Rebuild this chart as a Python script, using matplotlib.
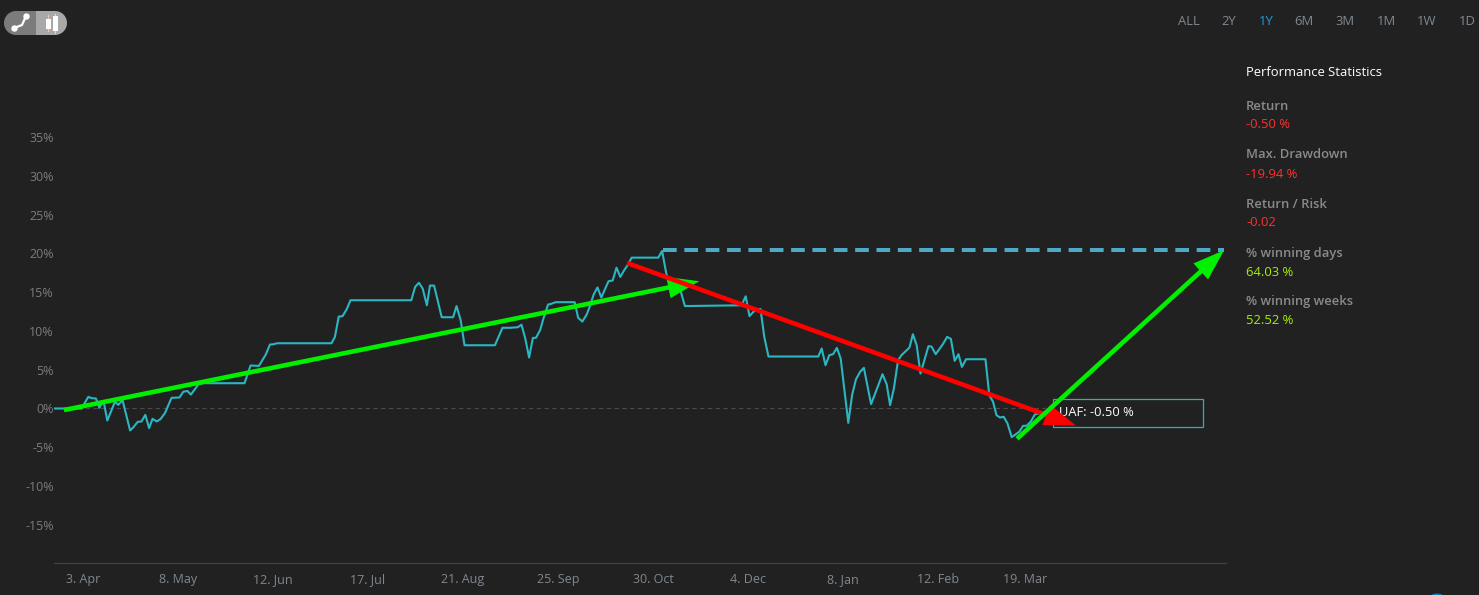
import matplotlib
matplotlib.use('Agg')
import matplotlib.pyplot as plt
from matplotlib.patches import FancyArrowPatch, Rectangle, Circle

# session number (0 = 3. Apr, one per trading day) and return in %
sessions = [-7.5, -0.4, 1.4, 2.3, 3.4, 4.3, 5.4, 6.4, 8.4, 9.3, 10.4, 12.4, 13.2, 14.4, 15.4, 16.4, 17.4, 18.3, 19.4,
            20.4, 21.6, 23.3, 25.4, 26.4, 27.5, 28.4, 30.4, 31.7, 42.5, 44.1, 46.3, 48.1, 49.2, 50.1, 51.1, 65.4,
            66.3, 67.3, 68.3, 69.4, 70.4, 86.4, 87.4, 88.4, 89.4, 90.5, 91.3, 92.4, 94.4, 97.4, 98.3, 99.4, 100.4,
            108.4, 110.4, 112.4, 114.4, 115.4, 116.4, 117.4, 118.4, 119.2, 120.3, 121.3, 122.4, 123.3, 124.4, 129.4,
            130.3, 131.4, 132.6, 133.4, 134.4, 135.4, 136.4, 138.3, 139.4, 140.4, 141.4, 142.4, 143.3, 144.4, 151.4,
            152.4, 153.5, 154.5, 155.5, 156.5, 158.4, 173.3, 174.4, 175.4, 176.4, 177.5, 178.3, 179.3, 180.4, 193.5,
            194.4, 195.4, 196.4, 197.4, 198.4, 199.4, 201.4, 202.4, 203.4, 204.5, 205.5, 207.4, 210.4, 211.5, 212.4,
            213.4, 214.5, 215.4, 217.5, 218.4, 219.4, 220.4, 222.5, 223.3, 224.4, 226.4, 227.4, 228.4, 229.4, 230.4,
            231.3, 232.4, 237.5, 238.5, 239.5, 240.4, 241.3, 242.3, 243.3, 244.4, 245.4, 246.4, 247.4, 248.3, 249.4,
            250.5, 251.4, 253.1]
returns = [0, 0, 1.5, 1.33, 1.29, 0.09, 0.99, -1.55, 0.86, 0.47, 1.07, -2.83, -2.45, -1.72, -1.67, -0.82, -2.53, -1.33,
           -1.67, -1.37, -0.56, 1.37, 1.42, 2.17, 2.25, 1.79, 3.13, 3.26, 3.26, 5.54, 5.49, 6.95, 8.24, 8.28, 8.41, 8.41,
           9.23, 11.85, 11.89, 12.79, 13.95, 13.95, 15.67, 16.2, 15.45, 13.3, 15.84, 15.84, 11.76, 11.76, 13.2, 11.37,
           8.15, 8.15, 10.4, 10.4, 10.47, 10.8, 9.0, 6.57, 9.1, 9.1, 10.1, 11.8, 13.4, 13.5, 13.7, 13.7, 11.7, 11.2,
           12.15, 13.2, 14.7, 15.6, 14.3, 16.4, 16.5, 18.15, 16.95, 17.8, 18.45, 19.44, 19.44, 20.3, 17.4, 15.9, 16.65,
           16.5, 13.2, 13.3, 14.46, 11.9, 12.45, 12.75, 12.83, 9.2, 6.7, 6.7, 7.73, 5.58, 6.87, 7.0, 7.81, 6.44, -1.85,
           1.72, 3.73, 4.72, 5.24, 0.56, 4.42, 3.13, 0.43, 2.58, 6.22, 6.87, 7.85, 9.57, 8.15, 4.5, 8.03, 7.98, 7.0,
           8.37, 9.23, 8.97, 6.14, 7.0, 5.36, 6.35, 6.35, 1.72, 0.86, -0.86, -1.16, -1.07, -1.93, -3.69, -3.35, -3.0,
           -2.23, -2.23, -1.72, -0.77, -0.64, -0.5]

x_ticks = [0, 25, 50, 75, 100, 125, 150, 175, 200, 225, 248]
x_labels = ['3. Apr', '8. May', '12. Jun', '17. Jul', '21. Aug', '25. Sep', '30. Oct', '4. Dec', '8. Jan', '12. Feb', '19. Mar']
y_ticks = [-15, -10, -5, 0, 5, 10, 15, 20, 25, 30, 35]

# hand drawn trend arrows: (session, %) start and tip
high_level = 20.4
high_start = 152.6
high_end = 300.2
green_up = ((-5, -0.2), (162.2, 16.4))
red_down = ((143.2, 18.75), (261.3, -2.2))
green_back = ((245.8, -3.9), (300.3, 20.4))

ranges = ['ALL', '2Y', '1Y', '6M', '3M', '1M', '1W', '1D']
range_x = [1189, 1229, 1266, 1304, 1345, 1386, 1427, 1467]
stat_names = ['Return', 'Max. Drawdown', 'Return / Risk', '% winning days', '% winning weeks']
stat_values = ['-0.50 %', '-19.94 %', '-0.02', '64.03 %', '52.52 %']
stat_colors = ['#ff3030', '#ff3030', '#ff3030', '#a4f000', '#a4f000']

BG = '#212121'
W, H = 1479, 595
plt.rcParams['font.family'] = ['Open Sans', 'DejaVu Sans']

fig = plt.figure(figsize=(W / 100, H / 100), dpi=100, facecolor=BG)
# plot area runs from x=54 to x=1226, y=60 to y=563 in pixels
ax = fig.add_axes([54 / W, 1 - 563 / H, (1226 - 54) / W, (563 - 60) / H], facecolor=BG)
ax.set_xlim(-7.63, 300.8)
ax.set_ylim(-19.91, 44.91)
for s in ['top', 'left', 'right']:
    ax.spines[s].set_visible(False)
ax.spines['bottom'].set_color('#444444')
ax.spines['bottom'].set_linewidth(0.8)
ax.set_xticks(x_ticks)
ax.set_xticklabels(x_labels)
ax.set_yticks(y_ticks)
ax.set_yticklabels([str(v) + '%' for v in y_ticks])
ax.tick_params(axis='x', length=0, pad=7, labelsize=9, labelcolor='#808890')
ax.tick_params(axis='y', length=0, pad=0, labelsize=9, labelcolor='#7c7c7c')

# zero line and series
ax.plot([sessions[0], sessions[-1]], [0, 0], color='#4a4a4a', lw=0.8, dashes=(4, 3), zorder=1)
ax.plot(sessions, returns, color='#2bb6c2', lw=1.5, solid_joinstyle='round', zorder=2)

# tooltip box
ax_ui = fig.add_axes([0, 0, 1, 1], facecolor='none')
ax_ui.set_xlim(0, W)
ax_ui.set_ylim(H, 0)
ax_ui.axis('off')
ax_ui.add_patch(Rectangle((1053, 399), 150, 28, fill=False, ec='#36aab5', lw=0.9))
ax_ui.text(1059, 413, 'UAF: ' + stat_values[0], color='white', fontsize=9.3, va='center', ha='left')


def arrow(start, tip, color, width):
    p = FancyArrowPatch(start, tip, arrowstyle='-|>,head_length=16,head_width=5.5', mutation_scale=1, color=color,
                        lw=width, shrinkA=0, shrinkB=0, transform=ax.transData, clip_on=False, zorder=5,
                        capstyle='butt', joinstyle='miter')
    ax_ui.add_patch(p)


# dashed high water line and arrows sit on top of everything
ax_ui.plot([high_start, high_end], [high_level, high_level], transform=ax.transData, color='#4ea9c6', lw=2.9,
           dashes=(3.4, 1.9), zorder=4, clip_on=False)
arrow(green_up[0], green_up[1], '#00f000', 3.3)
arrow(red_down[0], red_down[1], '#ff0000', 3.3)
arrow(green_back[0], green_back[1], '#00f000', 3.3)

# chart type switch
ax_ui.add_patch(Circle((55, 23), 12, fc='#a8a8a8', ec='none'))
ax_ui.add_patch(Rectangle((36, 11), 19, 24, fc='#a8a8a8', ec='none'))
ax_ui.add_patch(Circle((16, 23), 12, fc='#7c7c7c', ec='none'))
ax_ui.add_patch(Rectangle((16, 11), 20, 24, fc='#7c7c7c', ec='none'))
ax_ui.plot([14, 22, 26], [28, 25, 16], color='white', lw=1.6)
ax_ui.plot([14, 26], [28, 16], 'o', color='white', ms=3.6)
ax_ui.plot([48, 48], [15, 31], color='#f2c4b8', lw=0.8)
ax_ui.plot([55, 55], [14, 33], color='#c4e0f2', lw=0.8)
ax_ui.add_patch(Rectangle((45.5, 19), 5, 10, fc='white', ec='none', zorder=3))
ax_ui.add_patch(Rectangle((52.5, 16), 5, 15, fc='white', ec='none', zorder=3))

# range buttons
for name, x in zip(ranges, range_x):
    c = '#2196e0' if name == '1Y' else '#808890'
    ax_ui.text(x, 21.5, name, color=c, fontsize=9.4, ha='center', va='center')

# statistics panel
ax_ui.text(1246, 73, 'Performance Statistics', color='white', fontsize=9.4, va='center')
for i in range(5):
    ax_ui.text(1246, 106 + i * 49, stat_names[i], color='#8a8a8a', fontsize=9.4, fontweight='semibold', va='center')
    ax_ui.text(1246, 125 + i * 49, stat_values[i], color=stat_colors[i], fontsize=9.4, va='center')

# scroll button just showing at the bottom edge
ax_ui.add_patch(Circle((1437, 605), 11.5, fc='#0a7fb5', ec='none'))

fig.savefig('out.png', dpi=100, facecolor=BG)
